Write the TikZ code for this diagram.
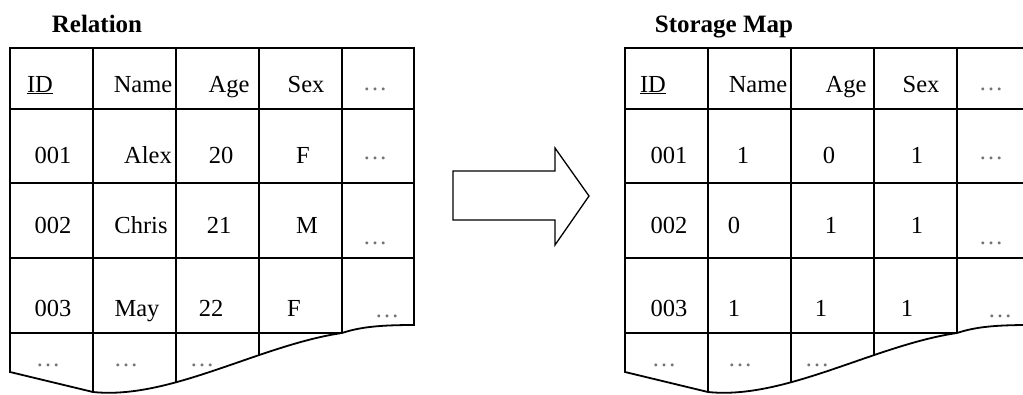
\documentclass[tikz,border=0pt]{standalone}
\usepackage{fontspec}
\setmainfont{Liberation Serif}
\newcommand\tablegridlines{%
  \draw[grid] (10,48)--(414,48)--(414,325) .. controls (380,325) and (360,327) .. (342,333)
     .. controls (260,345) and (170,400) .. (93,392) -- (10,372) -- cycle;
  \draw[grid] (10,109)--(414,109) (10,183)--(414,183) (10,258)--(414,258) (10,333)--(342,333);
  \draw[grid] (93,48)--(93,392) (176,48)--(176,383) (259,48)--(259,355) (342,48)--(342,333);
}
\begin{document}
\begin{tikzpicture}[x=1pt,y=-1pt,
  grid/.style={line width=1.8pt},
  cell/.style={anchor=base, inner sep=0pt, font=\fontsize{24.5}{28}\selectfont},
  dotcell/.style={cell, text=black!55},
  ttl/.style={anchor=base, inner sep=0pt, font=\fontsize{25}{30}\selectfont\bfseries},
  bigarrow/.style={draw, line width=1.3pt, line join=miter, fill=white}]
\useasboundingbox (0,0) rectangle (1023,394);
\clip (0,0) rectangle (1023,394);

% titles
\node[ttl] (t-rel) at (97,32) {Relation};
\node[ttl] (t-map) at (724,32) {Storage Map};

% grids
\tablegridlines
\begin{scope}[shift={(615,0)}]
\tablegridlines
\end{scope}

% arrow
\draw[bigarrow] (453,171)--(555,171)--(555,148)--(589,196)--(555,245)--(555,220)--(453,220)--cycle;

% left table
\node[cell] (r-h1) at (40,92) {\underline{ID}};
\node[cell] (r-h2) at (143,92) {Name};
\node[cell] (r-h3) at (229,92) {Age};
\node[cell] (r-h4) at (306,92) {Sex};
\node[dotcell] (r-h5) at (375,90) {\textellipsis};

\node[cell] (r-11) at (53,163) {001};
\node[cell] (r-12) at (148,163) {Alex};
\node[cell] (r-13) at (221,163) {20};
\node[cell] (r-14) at (303,163) {F};
\node[dotcell] (r-15) at (375,159) {\textellipsis};

\node[cell] (r-21) at (53,233) {002};
\node[cell] (r-22) at (141,233) {Chris};
\node[cell] (r-23) at (219,233) {21};
\node[cell] (r-24) at (307,233) {M};
\node[dotcell] (r-25) at (375,244) {\textellipsis};

\node[cell] (r-31) at (53,316) {003};
\node[cell] (r-32) at (137,316) {May};
\node[cell] (r-33) at (211,316) {22};
\node[cell] (r-34) at (294,316) {F};
\node[dotcell] (r-35) at (387,317) {\textellipsis};

\node[dotcell] (r-41) at (48,366) {\textellipsis};
\node[dotcell] (r-42) at (126,366) {\textellipsis};
\node[dotcell] (r-43) at (202,366) {\textellipsis};

% right table
\node[cell] (s-h1) at (653,92) {\underline{ID}};
\node[cell] (s-h2) at (758,92) {Name};
\node[cell] (s-h3) at (846,92) {Age};
\node[cell] (s-h4) at (921,92) {Sex};
\node[dotcell] (s-h5) at (991,90) {\textellipsis};

\node[cell] (s-11) at (669,163) {001};
\node[cell] (s-12) at (743,163) {1};
\node[cell] (s-13) at (829,163) {0};
\node[cell] (s-14) at (917,163) {1};
\node[dotcell] (s-15) at (991,159) {\textellipsis};

\node[cell] (s-21) at (669,233) {002};
\node[cell] (s-22) at (734,233) {0};
\node[cell] (s-23) at (831,233) {1};
\node[cell] (s-24) at (917,233) {1};
\node[dotcell] (s-25) at (991,244) {\textellipsis};

\node[cell] (s-31) at (669,316) {003};
\node[cell] (s-32) at (734,316) {1};
\node[cell] (s-33) at (821,316) {1};
\node[cell] (s-34) at (907,316) {1};
\node[dotcell] (s-35) at (1000,317) {\textellipsis};

\node[dotcell] (s-41) at (664,366) {\textellipsis};
\node[dotcell] (s-42) at (740,366) {\textellipsis};
\node[dotcell] (s-43) at (817,366) {\textellipsis};
\end{tikzpicture}
\end{document}
